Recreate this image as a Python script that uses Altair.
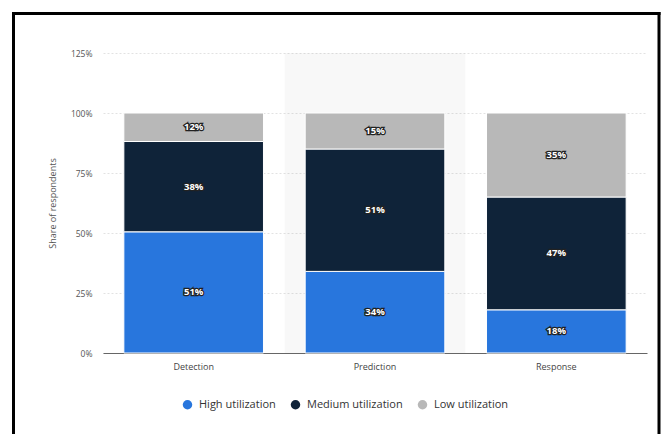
import altair as alt
import pandas as pd

categories = ["Detection", "Prediction", "Response"]
levels = ["High utilization", "Medium utilization", "Low utilization"]
high = [51, 34, 18]
medium = [38, 51, 47]
low = [12, 15, 35]
highlighted = ["Prediction"]
y_max = 1.25
y_ticks = [0, 0.25, 0.5, 0.75, 1.0, 1.25]
colors = ["#2876dd", "#0f2339", "#b8b8b8"]

rows = []
for i, c in enumerate(categories):
    for j, (lvl, vals) in enumerate(zip(levels, [high, medium, low])):
        rows.append({"cat": c, "level": lvl, "order": j, "value": vals[i], "label": f"{vals[i]}%"})
df = pd.DataFrame(rows)

FONT = "Open Sans"

xscale = alt.Scale(domain=categories, paddingInner=0.23, paddingOuter=0.115)
yscale = alt.Scale(domain=[0, y_max], nice=False)

x_enc = alt.X("cat:N", scale=xscale, sort=categories,
              axis=alt.Axis(title=None, labelAngle=0, ticks=False, domain=True,
                            domainColor="#666666", domainWidth=1, labelPadding=9,
                            labelFontSize=9, labelColor="#444444", labelFont=FONT))

hl = alt.Chart(pd.DataFrame({"cat": highlighted, "top": [y_max]})).mark_bar(
    width=alt.RelativeBandSize(1.295), color="#000000", opacity=0.027
).encode(
    x=x_enc,
    y=alt.Y("top:Q", scale=yscale,
            axis=alt.Axis(title="Share of respondents", values=y_ticks, format=".0%",
                          domain=False, ticks=False, labelPadding=11,
                          labelFontSize=8.5, labelColor="#555555", labelFont=FONT,
                          titleFontSize=9, titleFontWeight="normal", titleColor="#555555",
                          titleFont=FONT, titlePadding=13,
                          gridColor="#e2e2e2", gridDash=[2, 2], gridWidth=1)),
)

base = alt.Chart(df).transform_stack(
    stack="value", as_=["y0", "y1"], groupby=["cat"], offset="normalize",
    sort=[alt.SortField("order", "ascending")]
).transform_calculate(mid="(datum.y0 + datum.y1) / 2")

bars = base.mark_bar(stroke="white", strokeWidth=1).encode(
    x=alt.X("cat:N", scale=xscale, sort=categories),
    y=alt.Y("y0:Q", scale=yscale),
    y2="y1:Q",
    color=alt.Color("level:N", scale=alt.Scale(domain=levels, range=colors),
                    legend=alt.Legend(title=None, orient="none", legendX=79, legendY=346,
                                      direction="horizontal", symbolType="circle",
                                      symbolSize=90, symbolStrokeWidth=0,
                                      labelFontSize=11, labelColor="#333333", labelFont=FONT,
                                      columnPadding=14, labelOffset=6)),
)

txt_shadow = base.mark_text(fontSize=9.5, fontWeight="bold", font=FONT, color="#222222",
                            stroke="#222222", strokeWidth=2.5, baseline="middle").encode(
    x=alt.X("cat:N", scale=xscale, sort=categories),
    y=alt.Y("mid:Q", scale=yscale),
    text="label:N",
)
txt = base.mark_text(fontSize=9.5, fontWeight="bold", font=FONT, color="white",
                     baseline="middle").encode(
    x=alt.X("cat:N", scale=xscale, sort=categories),
    y=alt.Y("mid:Q", scale=yscale),
    text="label:N",
)

frame_df = pd.DataFrame({"a": [0]})
left_b = alt.Chart(frame_df).mark_rule(color="black", strokeWidth=3).encode(
    x=alt.value(-89.5), y=alt.value(-41), y2=alt.value(420))
top_b = alt.Chart(frame_df).mark_rule(color="black", strokeWidth=3).encode(
    x=alt.value(-91), x2=alt.value(557.5), y=alt.value(-39.5))
right_b = alt.Chart(frame_df).mark_rule(color="black", strokeWidth=3).encode(
    x=alt.value(556), y=alt.value(-41), y2=alt.value(420))

chart = alt.layer(hl, bars, txt_shadow, txt, left_b, top_b, right_b).properties(
    width=544, height=300,
    padding={"left": 103, "top": 53, "right": 15, "bottom": 81},
    autosize=alt.AutoSizeParams(type="none"),
    background="white",
).configure_view(stroke=None)

chart.save("out.html", embed_options={"renderer": "svg", "actions": False})
